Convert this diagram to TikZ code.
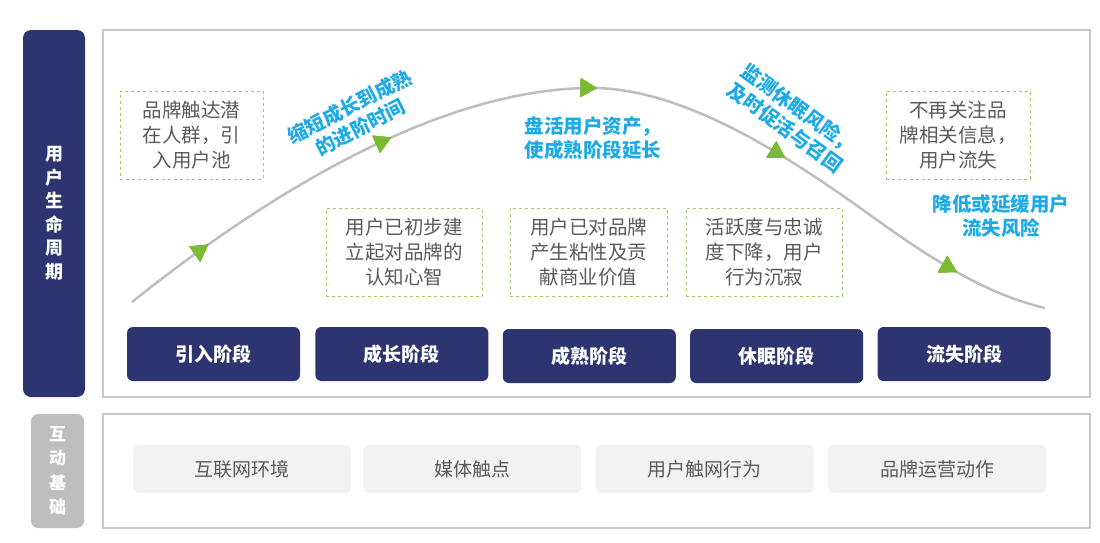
\documentclass[tikz,border=0pt]{standalone}
\usepackage{fontspec}
\usepackage{tikz}
\usetikzlibrary{positioning,arrows.meta,decorations.markings}
\newfontfamily\cjk{Noto Sans CJK SC}
\definecolor{navy}{RGB}{45,53,112}
\definecolor{cgray}{RGB}{200,200,200}
\definecolor{cside}{RGB}{190,190,190}
\definecolor{cgreen}{RGB}{122,186,52}
\definecolor{cblue}{RGB}{30,170,228}
\definecolor{ctext}{RGB}{90,90,90}
\definecolor{cpanel}{RGB}{242,242,242}
\tikzset{
  panel/.style={draw=cgray, line width=1.5pt, fill=white},
  sidebar/.style={rounded corners=8pt, fill=navy, text=white, align=center, inner sep=0pt, font=\cjk\bfseries\fontsize{18}{23.5}\selectfont},
  stage/.style={rounded corners=6pt, fill=navy, text=white, minimum width=173pt, minimum height=54pt, font=\cjk\bfseries\fontsize{19}{22}\selectfont},
  note/.style={draw=cgreen!75, dashed, line width=0.8pt, align=center, text=ctext, minimum height=88pt, font=\cjk\fontsize{19.5}{25}\selectfont},
  hint/.style={text=cblue, align=center, font=\cjk\bfseries\fontsize{19.5}{23.5}\selectfont},
  base/.style={rounded corners=6pt, fill=cpanel, text=ctext, minimum width=218pt, minimum height=48pt, font=\cjk\fontsize{19}{22}\selectfont},
  curve/.style={draw=cside, line width=2.5pt},
  tip/.style={decoration={markings, mark=at position #1 with {\arrow{Triangle[angle=60:19pt, line width=0pt, color=cgreen]}}}, postaction={decorate}},
}

\begin{document}
\begin{tikzpicture}[x=1pt, y=-1pt]
    \useasboundingbox (0,0) rectangle (1100,542);
    % frames
    \draw[panel] (103,30) rectangle (1090,397);
    \draw[panel] (103,414) rectangle (1090,528);
    \node[sidebar, minimum width=62pt, minimum height=367pt] (life) at (54,213.5) {用\\户\\生\\命\\周\\期};
    \node[sidebar, fill=cside, minimum width=53pt, minimum height=114pt, rounded corners=7pt, font=\cjk\bfseries\fontsize{17}{24.5}\selectfont] (basis) at (57.5,471) {互\\动\\基\\础};
    % stages
    \node[stage] (intro) at (213.5,354) {引入阶段};
    \node[stage, right=15pt of intro] (grow) {成长阶段};
    \node[stage, right=14pt of grow, yshift=-2pt] (mature) {成熟阶段};
    \node[stage, right=14pt of mature] (sleep) {休眠阶段};
    \node[stage, right=14pt of sleep, yshift=2pt] (lost) {流失阶段};
    % curve
    \coordinate (cs) at (132,302);
    \coordinate (cp) at (592,88);
    \coordinate (cm) at (870,215);
    \coordinate (ce) at (1045,308);
    \draw[curve, tip=0.093, tip=0.3, tip=0.508, tip=0.706, tip=0.907]
      (cs) .. controls (285,180) and (450,88) .. (cp)
           .. controls (680,88) and (780,150) .. (cm)
           .. controls (940,265.5) and (990,295) .. (ce);
    % notes
    \node[note, minimum width=143pt] (n1) at (191.5,135) {品牌触达潜\\在人群，引\\入用户池};
    \node[note, minimum width=156pt] (n2) at (404,252.5) {用户已初步建\\立起对品牌的\\认知心智};
    \node[note, minimum width=157pt] (n3) at (588.5,252) {用户已对品牌\\产生粘性及贡\\献商业价值};
    \node[note, minimum width=156pt] (n4) at (764,252) {活跃度与忠诚\\度下降，用户\\行为沉寂};
    \node[note, minimum width=144pt] (n5) at (958,135) {不再关注品\\牌相关信息，\\用户流失};
    % hints
    \node[hint, rotate=27] (h1) at (355,117) {缩短成长到成熟\\的进阶时间};
    \node[hint] (h2) at (593,138) {盘活用户资产，\\使成熟阶段延长};
    \node[hint, rotate=-36] (h3) at (792,118) {监测休眠风险，\\及时促活与召回};
    \node[hint] (h4) at (1001,216) {降低或延缓用户\\流失风险};
    % basis
    \node[base] (web) at (242,469) {互联网环境};
    \node[base, right=12pt of web] (media) {媒体触点};
    \node[base, right=14pt of media] (act) {用户触网行为};
    \node[base, right=14pt of act] (ops) {品牌运营动作};
\end{tikzpicture}
\end{document}
